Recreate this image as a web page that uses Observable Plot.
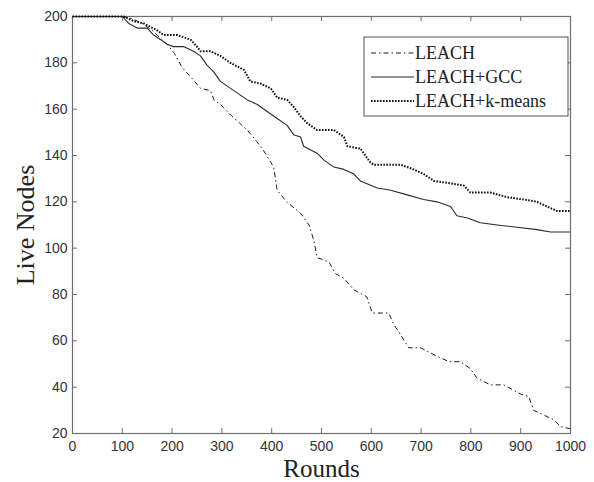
<!DOCTYPE html>
<html>
<head>
<meta charset="utf-8">
<script src="https://cdn.jsdelivr.net/npm/d3@7"></script>
<script src="https://cdn.jsdelivr.net/npm/@observablehq/plot@0.6"></script>
<style>
  html, body { margin: 0; padding: 0; background: #fff; }
  #chart { width: 594px; height: 482px; }
</style>
</head>
<body>
<div id="chart"></div>
<script>
// ---- data ----
const leachRounds = [0,100,120,140,160,175,190,205,220,237,257,277,284,297,320,351,370,384,404,411,430,458,475,485,491,515,528,545,565,591,602,635,645,655,675,699,726,756,779,799,812,839,866,900,916,926,946,966,980,1000];
const leachNodes  = [200,200,199,197,194,191,188,184,178,174,169,168,164,162,157,151,146,142,135,125,120,115,110,103,96,94,89,87,82,79,72,72,67,64,57,57,54,51,51,48,44,41,41,37,36,30,28,26,23,22];

const gccRounds = [0,100,113,130,150,163,177,190,203,223,243,257,270,284,297,324,351,371,391,411,431,444,458,464,491,505,525,545,565,578,612,639,672,705,732,759,772,793,819,853,893,933,960,1000];
const gccNodes  = [200,200,197,195,195,192,190,188,187,187,185,183,179,176,172,168,164,162,159,156,153,149,148,144,141,138,135,134,132,129,126,125,123,121,120,118,114,113,111,110,109,108,107,107];

const kmeansRounds = [0,103,123,143,170,183,210,237,250,257,277,297,317,344,357,378,398,411,431,444,458,471,491,525,545,552,578,598,605,659,685,705,726,759,786,799,839,873,906,933,953,973,1000];
const kmeansNodes  = [200,200,198,197,194,192,192,190,187,185,185,183,180,177,172,171,169,165,164,161,157,154,151,151,148,144,143,137,136,136,134,132,129,128,127,124,124,122,121,120,118,116,116];

const seriesNames = ["LEACH", "LEACH+GCC", "LEACH+k-means"];
const xTicks = [0,100,200,300,400,500,600,700,800,900,1000];
const yTicks = [20,40,60,80,100,120,140,160,180,200];

// ---- tables built from the arrays ----
const leach = leachRounds.map((r, i) => ({round: r, nodes: leachNodes[i]}));
const gcc = gccRounds.map((r, i) => ({round: r, nodes: gccNodes[i]}));
const kmeans = kmeansRounds.map((r, i) => ({round: r, nodes: kmeansNodes[i]}));

// ---- styles ----
const W = 594, H = 482;
const mT = 16, mR = 24, mB = 49, mL = 72;
const innerH = H - mT - mB;
const innerW = W - mL - mR;
const axisColor = "#6e6e6e";
const styles = [
  {stroke: "#1a1a1a", strokeWidth: 1, strokeDasharray: "5,3,1.5,3", strokeLinecap: "butt"},
  {stroke: "#2a2a2a", strokeWidth: 1.1, strokeDasharray: null, strokeLinecap: "butt"},
  {stroke: "#111", strokeWidth: 2, strokeDasharray: "1.6,1.4", strokeLinecap: "butt"}
];

const chart = Plot.plot({
  width: W,
  height: H,
  marginTop: mT,
  marginRight: mR,
  marginBottom: mB,
  marginLeft: mL,
  style: {background: "#fff", fontFamily: "'Liberation Sans', Arial, sans-serif", fontSize: "14px", color: "#333"},
  x: {domain: [0, 1000]},
  y: {domain: [20, 200]},
  marks: [
    // inward ticks on all four sides
    Plot.tickX(xTicks, {x: d => d, stroke: axisColor, insetTop: innerH - 5}),
    Plot.tickX(xTicks, {x: d => d, stroke: axisColor, insetBottom: innerH - 5}),
    Plot.tickY(yTicks, {y: d => d, stroke: axisColor, insetRight: innerW - 5}),
    Plot.tickY(yTicks, {y: d => d, stroke: axisColor, insetLeft: innerW - 5}),
    Plot.axisX({ticks: xTicks, tickSize: 0, tickPadding: 8, tickFormat: d => String(d), label: null, fill: "#333", fontSize: 14}),
    Plot.axisY({ticks: yTicks, tickSize: 0, tickPadding: 5, tickFormat: d => String(d), label: null, fill: "#333", fontSize: 14}),
    Plot.frame({stroke: axisColor, strokeWidth: 1.2}),
    Plot.line(leach, {x: "round", y: "nodes", ...styles[0]}),
    Plot.line(gcc, {x: "round", y: "nodes", ...styles[1]}),
    Plot.line(kmeans, {x: "round", y: "nodes", ...styles[2]}),
    Plot.text(["Rounds"], {frameAnchor: "bottom", dy: 43, lineAnchor: "bottom", fontFamily: "'Liberation Serif', 'Times New Roman', serif", fontSize: 25, fill: "#222"}),
    Plot.text(["Live Nodes"], {frameAnchor: "left", dx: -39, rotate: -90, textAnchor: "middle", lineAnchor: "bottom", fontFamily: "'Liberation Serif', 'Times New Roman', serif", fontSize: 26, fill: "#222"})
  ]
});

// ---- legend box (drawn into the same SVG) ----
const svg = d3.select(chart);
const lg = svg.append("g").attr("transform", "translate(364,37)");
lg.append("rect").attr("width", 204).attr("height", 79)
  .attr("fill", "#fff").attr("stroke", "#555").attr("stroke-width", 1);
seriesNames.forEach((name, i) => {
  const yy = 16 + i * 24;
  const s = styles[i];
  const ln = lg.append("line").attr("x1", 7).attr("x2", 50).attr("y1", yy).attr("y2", yy)
    .attr("stroke", s.stroke).attr("stroke-width", s.strokeWidth).attr("stroke-linecap", "butt");
  if (s.strokeDasharray) ln.attr("stroke-dasharray", s.strokeDasharray);
  lg.append("text").attr("x", 51).attr("y", yy).attr("dy", "0.35em")
    .attr("text-anchor", "start")
    .attr("font-family", "'Liberation Serif', 'Times New Roman', serif")
    .attr("font-size", 18).attr("fill", "#222").text(name);
});

document.getElementById("chart").appendChild(chart);
</script>
</body>
</html>
